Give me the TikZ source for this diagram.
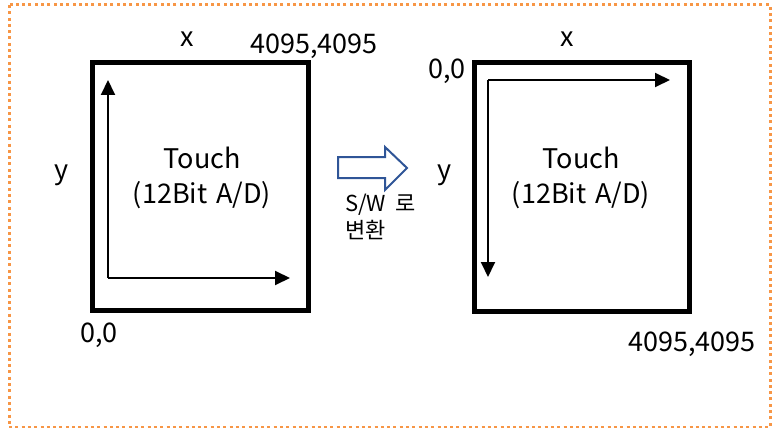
\documentclass[tikz,border=0pt]{standalone}
\usepackage{fontspec}
\setmainfont{Noto Sans CJK KR}
\usetikzlibrary{arrows.meta}
\definecolor{borderor}{HTML}{F79646}
\definecolor{arrowblue}{HTML}{2F5597}
\begin{document}
\begin{tikzpicture}[x=1pt,y=-1pt,
  panel/.style={draw=black,line width=5pt,line join=miter},
  axis/.style={draw=black,line width=2pt,-{Triangle[length=15pt,width=14pt]}},
  lbl/.style={inner sep=0pt,anchor=base,font=\fontsize{27}{30}\selectfont},
  small/.style={inner sep=0pt,anchor=base west,font=\fontsize{22}{26}\selectfont}]
\useasboundingbox (0,0) rectangle (780,428);
\draw[borderor,line width=3pt,dash pattern=on 3pt off 3.3pt] (9,5) rectangle (770,427);
% left panel
\node[panel,minimum width=216pt,minimum height=248pt,anchor=north west] (L) at (90,60) {};
\coordinate (LO) at (108,278);
\coordinate (LY) at (108,80);
\coordinate (LX) at (290,278);
\draw[axis] (LO) -- (LY);
\draw[axis] (LO) -- (LX);
\node[lbl] (Lx) at (187,47) {x};
\node[lbl] (Lmax) at (314,54) {4095,4095};
\node[lbl] (Ly) at (62,179) {y};
\node[lbl] (Lt1) at (202,168) {Touch};
\node[lbl] (Lt2) at (202,203) {(12Bit\hspace{9pt}A/D)};
\node[lbl] (Lmin) at (99,342) {0,0};
% right panel
\node[panel,minimum width=215pt,minimum height=249pt,anchor=north west] (R) at (472,60) {};
\coordinate (RO) at (488,80);
\coordinate (RX) at (670,80);
\coordinate (RY) at (488,277);
\draw[axis] (RO) -- (RX);
\draw[axis] (RO) -- (RY);
\node[lbl] (Rx) at (567,47) {x};
\node[lbl] (Rmin) at (447,79) {0,0};
\node[lbl] (Ry) at (445,179) {y};
\node[lbl] (Rt1) at (581,168) {Touch};
\node[lbl] (Rt2) at (581,203) {(12Bit\hspace{9pt}A/D)};
\node[lbl] (Rmax) at (692,351) {4095,4095};
% block arrow
\draw[arrowblue,line width=2pt,fill=white,line join=miter]
  (338,157) -- (385,157) -- (385,147) -- (407,168) -- (385,190) -- (385,178) -- (338,178) -- cycle;
\node[small] (sw1) at (345,211) {S/W\hspace{9pt}로};
\node[small] (sw2) at (345,238) {변환};
\end{tikzpicture}
\end{document}
